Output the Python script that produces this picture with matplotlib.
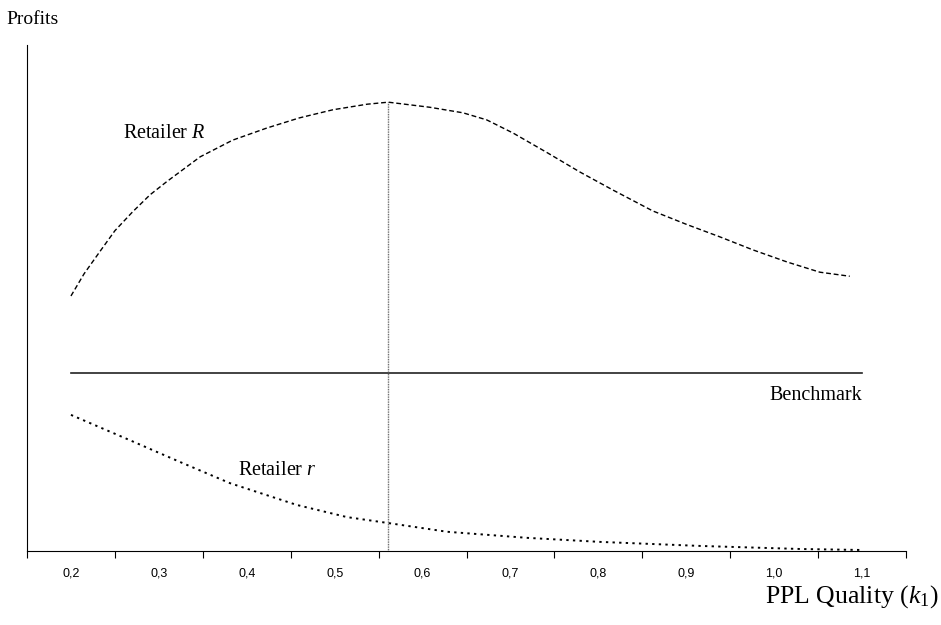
import matplotlib.pyplot as plt
import numpy as np

plt.rcParams['font.family'] = ['Liberation Serif', 'DejaVu Serif']
plt.rcParams['mathtext.fontset'] = 'custom'
plt.rcParams['mathtext.rm'] = 'Liberation Serif'
plt.rcParams['mathtext.it'] = 'Liberation Serif:italic'

# Retailer R (profits, arbitrary units)
R_x = [0.20, 0.215, 0.233, 0.25, 0.27, 0.29, 0.309, 0.347, 0.384, 0.423, 0.46, 0.498, 0.537, 0.561,
       0.608, 0.646, 0.673, 0.703, 0.742, 0.779, 0.817, 0.862, 0.901, 0.938,
       0.976, 1.015, 1.052, 1.086]
R_y = [50.4, 54.8, 59.2, 63.3, 67.0, 70.4, 73.0, 77.9, 81.2, 83.6, 85.6, 87.2, 88.3, 88.7,
       87.7, 86.6, 85.2, 82.6, 78.7, 74.9, 71.3, 67.2, 64.5, 62.1,
       59.5, 57.1, 55.1, 54.3]

# Retailer r
r_x = [0.20, 0.267, 0.324, 0.381, 0.457, 0.514, 0.562, 0.628, 0.719, 0.802, 0.916, 1.029, 1.10]
r_y = [26.9, 21.9, 17.6, 13.4, 9.1, 6.7, 5.5, 3.8, 2.6, 1.8, 1.0, 0.4, 0.2]

# Benchmark
bench_x = [0.20, 1.10]
bench_y = [35.2, 35.2]

k_opt = 0.561
tick_labels = ["0,2", "0,3", "0,4", "0,5", "0,6", "0,7", "0,8", "0,9", "1,0", "1,1"]
tick_pos = [0.2, 0.3, 0.4, 0.5, 0.6, 0.7, 0.8, 0.9, 1.0, 1.1]

fig = plt.figure(figsize=(9.41, 6.25), dpi=100)
ax = fig.add_axes([27/941, 74/625, 879/941, 506/625])

ax.plot(R_x, R_y, color="black", lw=1.0, dashes=(3.5, 2))
ax.plot(r_x, r_y, color="black", lw=1.4, dashes=(1.2, 2.2))
ax.plot(bench_x, bench_y, color="#222222", lw=1.2)
ax.plot([k_opt, k_opt], [0, max(R_y)], color="#555555", lw=1.0, ls=(0, (0.6, 0.6)))

ax.set_xlim(0.15, 1.15)
ax.set_ylim(0, 100)
ax.spines['top'].set_visible(False)
ax.spines['right'].set_visible(False)
ax.set_yticks([])

ax.set_xticks(np.arange(0.15, 1.16, 0.1))
ax.set_xticklabels([])
ax.tick_params(axis='x', which='major', length=5, direction='out')
ax.set_xticks(tick_pos, minor=True)
ax.set_xticklabels(tick_labels, minor=True, fontfamily=['Liberation Sans Narrow', 'Liberation Sans'],
                   fontsize=9, color='black')
ax.tick_params(axis='x', which='minor', length=0, pad=12)

ax.text(0.259, 82.6, r"Retailer $R$", fontsize=14.5, va='center', ha='left')
ax.text(1.10, 30.8, "Benchmark", fontsize=14.5, va='center', ha='right')
ax.text(0.39, 16.0, r"Retailer $r$", fontsize=14.5, va='center', ha='left')

fig.text(6/941, 1 - 20/625, "Profits", fontsize=14, va='center', ha='left')
fig.text(938/941, 1 - 597/625, r"PPL Quality ($k_1$)", fontsize=18.5, va='center', ha='right')

fig.savefig("out.png", dpi=100)
